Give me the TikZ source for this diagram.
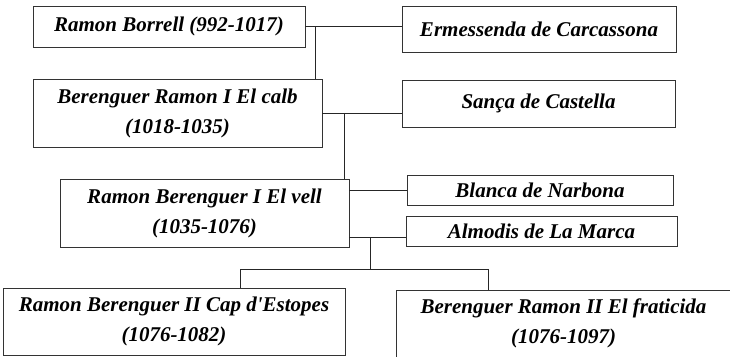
\documentclass[tikz,border=0pt]{standalone}
\usepackage{fontspec}
\newfontfamily\brushfont{Liberation Serif}
\usetikzlibrary{calc}
\begin{document}
\begin{tikzpicture}[x=1pt,y=1pt,
  box/.style={draw=black!80, line width=0.9pt, inner sep=0pt, align=center,
    font=\brushfont\fontsize{21}{30}\selectfont\bfseries\itshape},
  link/.style={draw=black!85, line width=0.9pt}]
\useasboundingbox (0,0) rectangle (730,356);
\clip (0,0) rectangle (730,356);
\node[box, minimum width=272, minimum height=41] (b1) at (169,329.5) {Ramon Borrell (992-1017)};
\node[box, minimum width=274, minimum height=46] (erm) at (539,327) {Ermessenda de Carcassona};
\node[box, minimum width=289, minimum height=68] (b2) at (177.5,243) {Berenguer Ramon I El calb\\(1018-1035)};
\node[box, minimum width=273, minimum height=47] (sanca) at (538.5,252.5) {Sança de Castella};
\node[box, minimum width=289, minimum height=68] (b3) at (204.5,143) {Ramon Berenguer I El vell\\(1035-1076)};
\node[box, minimum width=266, minimum height=30] (blanca) at (540,166) {Blanca de Narbona};
\node[box, minimum width=271, minimum height=30] (almodis) at (541.5,125) {Almodis de La Marca};
\node[box, minimum width=342, minimum height=67] (b4) at (174,34.5) {Ramon Berenguer II Cap d'Estopes\\(1076-1082)};
\node[box, minimum width=335, minimum height=67] (b5) at (563.5,32.5) {Berenguer Ramon II El fraticida\\(1076-1097)};
% Ramon Borrell + Ermessenda
\draw[link] (b1.east) -- (b1.east -| erm.west);
\coordinate (j1) at ($(b1.east)+(10,0)$);
\draw[link] (j1) -- (j1 |- b2.north);
% Berenguer Ramon I + Sança
\draw[link] (b2.east) -- (b2.east -| sanca.west);
\coordinate (j2) at ($(b2.east)+(22,0)$);
\draw[link] (j2) -- (j2 |- b3.north);
% Ramon Berenguer I + Blanca, Almodis
\draw[link] (b3.east |- blanca.west) -- (blanca.west);
\coordinate (b3b) at ($(b3.south east)+(0,10)$);
\draw[link] (b3b) -- (b3b -| almodis.west);
\coordinate (j3) at ($(b3b)+(21,0)$);
\coordinate (bar) at ($(j3)+(0,-32)$);
\draw[link] (j3) -- (bar);
\coordinate (k4) at ($(b4.north)+(66,0)$);
\coordinate (k5) at ($(b5.north)+(-75.5,0)$);
\draw[link] (k4) -- (k4 |- bar) -- (k5 |- bar) -- (k5);
\end{tikzpicture}
\end{document}
